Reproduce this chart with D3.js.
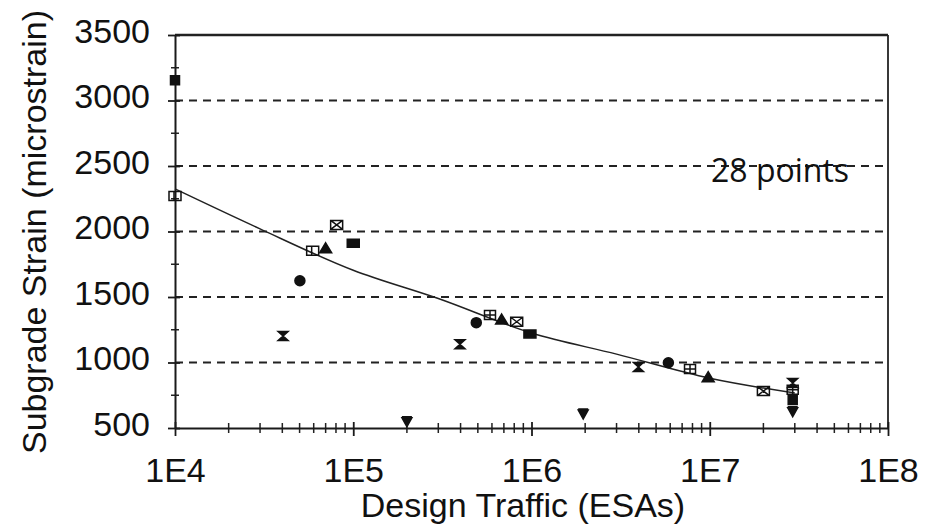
<!DOCTYPE html>
<html>
<head>
<meta charset="utf-8">
<script src="https://cdn.jsdelivr.net/npm/d3@7"></script>
<style>
  body { margin: 0; background: #fff; }
  svg { display: block; }
  text { font-family: "Liberation Sans", Arial, sans-serif; fill: #111; }
</style>
</head>
<body>
<svg id="chart" width="934" height="531"></svg>
<script>
// values: [design traffic (ESAs), subgrade strain (microstrain)]
var filledSquarePts  = [[1e4, 3155], [2.92e7, 714]];
var openSquarePts    = [[1e4, 2271], [5.92e4, 1853]];
var crossedSquarePts = [[8.07e4, 2050], [8.26e5, 1311], [2e7, 782]];
var filledCirclePts  = [[5.02e4, 1624], [4.9e5, 1304], [5.86e6, 998]];
var hourglassPts     = [[4.04e4, 1202], [3.97e5, 1140], [3.98e6, 965], [2.92e7, 844]];
var trianglePts      = [[7e4, 1868], [6.8e5, 1324], [9.8e6, 884]];
var filledRectPts    = [[1e5, 1910], [9.8e5, 1218]];
var gridSquarePts    = [[5.85e5, 1363], [7.75e6, 950], [2.92e7, 792]];
var downTrianglePts  = [[2e5, 548], [1.95e6, 607], [2.92e7, 624]];

// fitted curve
var trendTraffic = [1e4, 3e4, 1e5, 3e5, 1e6, 3e6, 1e7, 3e7];
var trendStrain  = [2325, 2020, 1704, 1488, 1225, 1064, 880, 767];

var xTickValues = [1e4, 1e5, 1e6, 1e7, 1e8];
var xTickLabels = ["1E4", "1E5", "1E6", "1E7", "1E8"];
var yTickValues = [500, 1000, 1500, 2000, 2500, 3000, 3500];
var gridValues  = [1000, 1500, 2000, 2500, 3000];

var svg = d3.select("#chart");
var plotLeft = 175, plotRight = 888, plotTop = 35, plotBottom = 428;

var x = d3.scaleLog().domain([1e4, 1e8]).range([plotLeft, plotRight]);
var y = d3.scaleLinear().domain([500, 3500]).range([plotBottom, plotTop]);

// dashed grid
svg.append("g").selectAll("line").data(gridValues).enter().append("line")
  .attr("x1", plotLeft).attr("x2", plotRight)
  .attr("y1", function(d){ return y(d); }).attr("y2", function(d){ return y(d); })
  .attr("stroke", "#222").attr("stroke-width", 2.2)
  .attr("stroke-dasharray", "8,6");

// frame: top and right
svg.append("line").attr("x1", plotLeft).attr("x2", plotRight).attr("y1", plotTop).attr("y2", plotTop)
  .attr("stroke", "#222").attr("stroke-width", 2.4);
svg.append("line").attr("x1", plotRight).attr("x2", plotRight).attr("y1", plotTop).attr("y2", plotBottom)
  .attr("stroke", "#222").attr("stroke-width", 1.8);

// minor ticks
var xMinor = [];
for (var dec = 1e4; dec < 1e8; dec *= 10) {
  for (var k = 2; k <= 9; k++) xMinor.push(dec * k);
}
var yMinor = [];
for (var v = 750; v < 3500; v += 500) yMinor.push(v);

svg.append("g").selectAll("line").data(xMinor).enter().append("line")
  .attr("x1", function(d){ return x(d); }).attr("x2", function(d){ return x(d); })
  .attr("y1", plotBottom - 5).attr("y2", plotBottom + 5)
  .attr("stroke", "#222").attr("stroke-width", 1.5);
svg.append("g").selectAll("line").data(yMinor).enter().append("line")
  .attr("x1", plotLeft - 4).attr("x2", plotLeft + 4)
  .attr("y1", function(d){ return y(d); }).attr("y2", function(d){ return y(d); })
  .attr("stroke", "#222").attr("stroke-width", 1.5);

// x axis
var xAxis = d3.axisBottom(x).tickValues(xTickValues)
  .tickFormat(function(d, i){ return xTickLabels[i]; }).tickSize(0);
var gx = svg.append("g").attr("transform", "translate(0," + plotBottom + ")").call(xAxis);
gx.select(".domain").attr("stroke", "#1a1a1a").attr("stroke-width", 2);
gx.selectAll(".tick line").attr("y1", -6).attr("y2", 8).attr("stroke", "#1a1a1a").attr("stroke-width", 1.8);
gx.selectAll(".tick text").attr("y", 54).attr("dy", 0)
  .style("font-size", "34px").style("font-family", "Liberation Sans, Arial, sans-serif").attr("fill", "#111");

// y axis
var yAxis = d3.axisLeft(y).tickValues(yTickValues).tickFormat(d3.format("d")).tickSize(0);
var gy = svg.append("g").attr("transform", "translate(" + plotLeft + ",0)").call(yAxis);
gy.select(".domain").attr("stroke", "#1a1a1a").attr("stroke-width", 2);
gy.selectAll(".tick line").attr("x1", -7).attr("x2", 5).attr("stroke", "#1a1a1a").attr("stroke-width", 1.8);
gy.selectAll(".tick text").attr("x", -25).attr("dy", 7)
  .style("font-size", "34px").style("font-family", "Liberation Sans, Arial, sans-serif").attr("fill", "#111");

// axis titles
svg.append("text")
  .attr("x", 523).attr("y", 517)
  .attr("text-anchor", "middle")
  .style("font-size", "34px")
  .text("Design Traffic (ESAs)");
svg.append("text")
  .attr("transform", "translate(46,232) rotate(-90)")
  .attr("text-anchor", "middle")
  .style("font-size", "34px")
  .text("Subgrade Strain (microstrain)");

// trend line
var trend = trendTraffic.map(function(t, i){ return [t, trendStrain[i]]; });
var line = d3.line()
  .x(function(d){ return x(d[0]); })
  .y(function(d){ return y(d[1]); })
  .curve(d3.curveMonotoneX);
svg.append("path").datum(trend)
  .attr("d", line)
  .attr("fill", "none").attr("stroke", "#222").attr("stroke-width", 1.5);

// marker shapes, centred on 0,0
var shapes = {
  filledSquare:  { d: "M-4.5,-4.5H4.5V4.5H-4.5Z", fill: "#111" },
  filledRect:    { d: "M-6,-4H6V4H-6Z", fill: "#111" },
  filledCircle:  { d: "M-5,0A5,5 0 1,0 5,0A5,5 0 1,0 -5,0Z", fill: "#111" },
  triangle:      { d: "M0,-6L6,4H-6Z", fill: "#111" },
  downTriangle:  { d: "M-5,-4H5L0,5Z M-5,-5H5", fill: "#111" },
  hourglass:     { d: "M-5,-4.5H5L0,0Z M-5,4.5H5L0,0Z", fill: "#111" },
  gridSquare:    { d: "M-5.5,-4.5H5.5V4.5H-5.5Z M0,-4.5V4.5 M-5.5,0H5.5", fill: "none" },
  crossedSquare: { d: "M-6,-4.5H6V4.5H-6Z M-6,-4.5L6,4.5 M-6,4.5L6,-4.5", fill: "none" },
  openSquare:    { d: "M-6,-4.5H6V4.5H-6Z M-1,-4.5V4.5", fill: "none" }
};

var series = [
  { type: "filledSquare",  pts: filledSquarePts },
  { type: "openSquare",    pts: openSquarePts },
  { type: "crossedSquare", pts: crossedSquarePts },
  { type: "filledCircle",  pts: filledCirclePts },
  { type: "hourglass",     pts: hourglassPts },
  { type: "triangle",      pts: trianglePts },
  { type: "filledRect",    pts: filledRectPts },
  { type: "gridSquare",    pts: gridSquarePts },
  { type: "downTriangle",  pts: downTrianglePts }
];

series.forEach(function(s) {
  var shp = shapes[s.type];
  svg.append("g").attr("class", s.type)
    .selectAll("path").data(s.pts).enter().append("path")
    .attr("transform", function(d){ return "translate(" + x(d[0]) + "," + y(d[1]) + ")"; })
    .attr("d", shp.d)
    .attr("fill", shp.fill)
    .attr("stroke", "#111")
    .attr("stroke-width", 1.5);
});

// annotation
svg.append("text")
  .attr("x", 711).attr("y", 182)
  .style("font-family", "'Open Sans', 'Noto Sans', sans-serif")
  .style("font-size", "32px")
  .text("28 points");
</script>
</body>
</html>
